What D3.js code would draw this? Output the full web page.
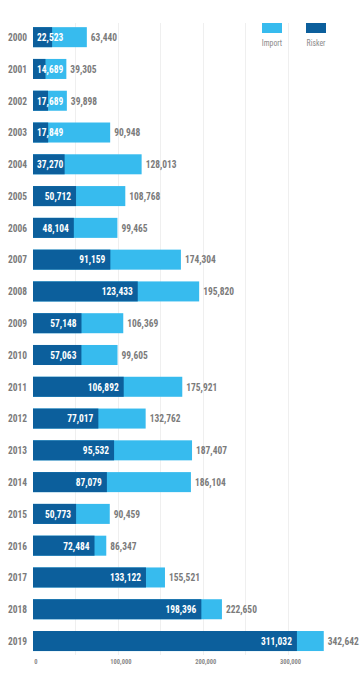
<!DOCTYPE html>
<html>
<head>
<meta charset="utf-8">
<script src="https://cdn.jsdelivr.net/npm/d3@7"></script>
<style>
    body { margin: 0; background: #fff; }
    svg { display: block; font-family: "Roboto Condensed", "Liberation Sans Narrow", "DejaVu Sans Condensed", sans-serif; }
</style>
</head>
<body>
<div id="chart"></div>
<script>

var years = ['2000', '2001', '2002', '2003', '2004', '2005', '2006', '2007', '2008', '2009',
             '2010', '2011', '2012', '2013', '2014', '2015', '2016', '2017', '2018', '2019'];

var risker = [22523, 14689, 17689, 17849, 37270, 50712, 48104, 91159, 123433, 57148,
              57063, 106892, 77017, 95532, 87079, 50773, 72484, 133122, 198396, 311032];

var imports = [63440, 39305, 39898, 90948, 128013, 108768, 99465, 174304, 195820, 106369,
               99605, 175921, 132762, 187407, 186104, 90459, 86347, 155521, 222650, 342642];

var tick_values = [0, 100000, 200000, 300000];
var tick_labels = ['0', '100,000', '200,000', '300,000'];
var grid_values = [50000, 100000, 150000, 200000, 250000, 300000];

var legend_names = ['Import', 'Risker'];

var w = 361;
var h = 678;

var DARK = '#0c5f9c';
var LIGHT = '#37bbee';
var GREY = '#7b7b7b';

// text is drawn a little narrower to match the condensed face of the original
var SQUEEZE = 0.86;

var fmt = d3.format(',');

var xScale = d3.scaleLinear()
    .domain([0, 350000])
    .range([33, 33 + 297]);

var yScale = d3.scaleBand()
    .domain(years)
    .range([15.4, 662.8])
    .paddingInner(0.37)
    .paddingOuter(0.37);

var legendScale = d3.scaleOrdinal()
    .domain(legend_names)
    .range([LIGHT, DARK]);

function place(x, y) {
    return 'translate(' + x + ',' + y + ') scale(' + SQUEEZE + ',1)';
}

var svg = d3.select('#chart')
    .append('svg')
    .attr('width', w)
    .attr('height', h);

// grid lines
svg.append('g')
    .selectAll('line')
    .data(grid_values)
    .enter()
    .append('line')
    .attr('x1', function(d) { return Math.round(xScale(d)) + 0.5; })
    .attr('x2', function(d) { return Math.round(xScale(d)) + 0.5; })
    .attr('y1', 23)
    .attr('y2', 655)
    .attr('stroke', '#efefef')
    .attr('stroke-width', 1);

// legend
var legend = svg.append('g')
    .selectAll('g')
    .data(legend_names)
    .enter()
    .append('g')
    .attr('transform', function(d, i) { return 'translate(' + (272 + i * 44) + ',0)'; });

legend.append('rect')
    .attr('x', -10)
    .attr('y', 23)
    .attr('width', 20)
    .attr('height', 10)
    .attr('fill', function(d) { return legendScale(d); });

legend.append('text')
    .attr('transform', place(0, 46))
    .attr('text-anchor', 'middle')
    .attr('font-size', 9)
    .attr('fill', '#8a8a8a')
    .text(function(d) { return d; });

var rows = svg.append('g')
    .selectAll('g')
    .data(years)
    .enter()
    .append('g')
    .attr('transform', function(d) { return 'translate(0,' + yScale(d) + ')'; });

var bh = yScale.bandwidth();

// import bar (full)
rows.append('rect')
    .attr('x', xScale(0))
    .attr('y', 0)
    .attr('width', function(d, i) { return xScale(imports[i]) - xScale(0); })
    .attr('height', bh)
    .attr('fill', LIGHT);

// risker bar
rows.append('rect')
    .attr('x', xScale(0))
    .attr('y', 0)
    .attr('width', function(d, i) { return xScale(risker[i]) - xScale(0); })
    .attr('height', bh)
    .attr('fill', DARK);

// year labels
rows.append('text')
    .attr('transform', place(27, bh / 2))
    .attr('dy', '0.35em')
    .attr('text-anchor', 'end')
    .attr('font-size', 11)
    .attr('font-weight', 'bold')
    .attr('fill', GREY)
    .text(function(d) { return d; });

// import totals
rows.append('text')
    .attr('transform', function(d, i) { return place(xScale(imports[i]) + 4, bh / 2); })
    .attr('dy', '0.35em')
    .attr('font-size', 11)
    .attr('font-weight', 'bold')
    .attr('fill', GREY)
    .text(function(d, i) { return fmt(imports[i]); });

// risker values, inside the dark bar
rows.append('text')
    .attr('dy', '0.35em')
    .attr('text-anchor', 'end')
    .attr('font-size', 11)
    .attr('font-weight', 'bold')
    .attr('fill', '#fff')
    .text(function(d, i) { return fmt(risker[i]); })
    .attr('transform', function(d, i) {
        var tw = this.getComputedTextLength() * SQUEEZE;
        return place(Math.max(xScale(risker[i]) - 5, xScale(0) + 4 + tw), bh / 2);
    });

// x axis labels
svg.append('g')
    .selectAll('text')
    .data(tick_values)
    .enter()
    .append('text')
    .attr('transform', function(d) { return place(xScale(d) + 3, 664); })
    .attr('text-anchor', 'middle')
    .attr('font-size', 7.5)
    .attr('font-weight', 'bold')
    .attr('fill', '#8a8a8a')
    .text(function(d, i) { return tick_labels[i]; });

</script>
</body>
</html>
